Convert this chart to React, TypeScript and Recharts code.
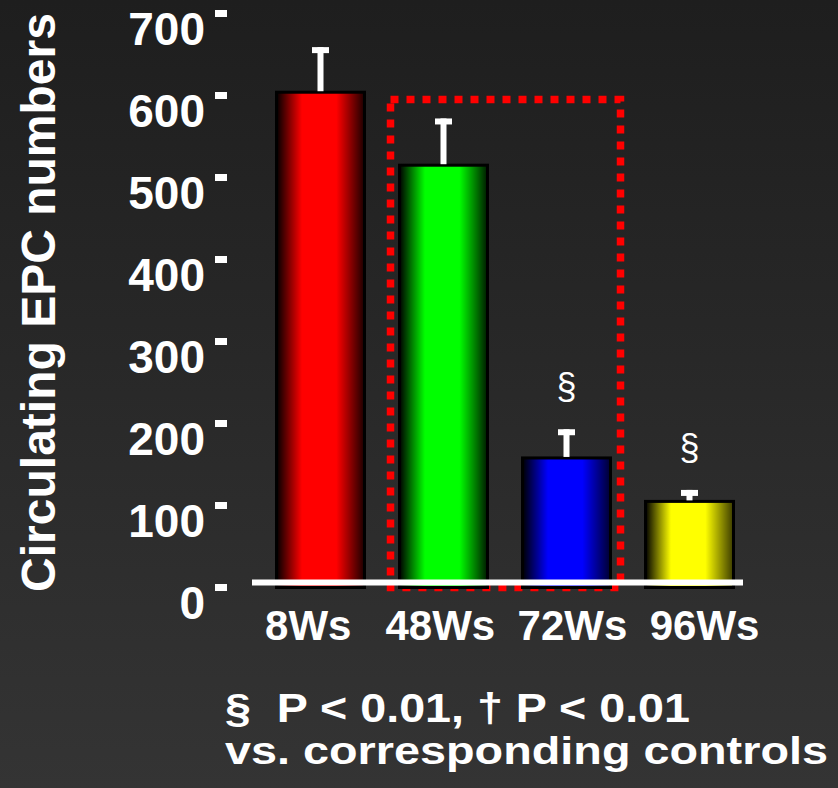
import React from 'react';
import { BarChart, Bar, XAxis, YAxis, ReferenceArea, ReferenceLine } from 'recharts';

const categories = ['8Ws', '48Ws', '72Ws', '96Ws'];
const means = [604, 515, 158, 105];
const errors = [55, 57, 35, 14];
const marks = ['', '', '§', '§'];
const colors = ['#ff0000', '#00ff00', '#0000ff', '#ffff00'];
const edgeColors = ['#1a0000', '#001a00', '#000030', '#3a3a00'];
const yTicks = [0, 100, 200, 300, 400, 500, 600, 700];
const boxFrom = '48Ws';
const boxTo = '72Ws';
const boxTop = 595;
const yTitle = 'Circulating EPC numbers';
const note1 = '§  P < 0.01, † P < 0.01';
const note2 = 'vs. corresponding controls';

const data = categories.map((c, i) => ({ name: c, value: means[i], err: errors[i], mark: marks[i] }));

const FONT = '"Liberation Sans", Arial, Helvetica, sans-serif';
const CHART_W = 838;
const MARGIN = { top: 13.5, right: 87, bottom: 140.5, left: 0 };
const Y_AXIS_W = 259;
const PLOT_MID = Y_AXIS_W + (CHART_W - MARGIN.right - Y_AXIS_W) / 2;

const BarShape = (props: any) => {
  const { x, y, width, height, index, payload } = props;
  const pxPerUnit = height / payload.value;
  const errTop = y - payload.err * pxPerUnit;
  const cx = x + width / 2;
  return (
    <g>
      <rect x={x} y={y} width={width} height={height} fill={`url(#barGrad${index})`} stroke="#000" strokeWidth={3} />
      <rect x={cx - 3} y={errTop} width={6} height={y - errTop - 1} fill="#fff" />
      <rect x={cx - 8.5} y={errTop} width={17} height={6} fill="#fff" />
      {payload.mark ? (
        <text x={cx} y={errTop - 30} textAnchor="middle" fill="#fff" fontFamily={FONT} fontSize={36}>
          {payload.mark}
        </text>
      ) : null}
    </g>
  );
};

const YTick = (props: any) => {
  const { x, y, payload } = props;
  return (
    <g>
      <rect x={x - 44} y={y - 3.5} width={12} height={7} fill="#fff" />
      <text x={x - 54} y={y + 31} textAnchor="end" fill="#fff" fontFamily={FONT} fontWeight="bold" fontSize={46}>
        {payload.value}
      </text>
    </g>
  );
};

const XTick = (props: any) => {
  const { x, y, payload } = props;
  const tx = x + (x - PLOT_MID) * 0.074 + 1.4;
  return (
    <text x={tx} y={y + 52.5} textAnchor="middle" fill="#fff" fontFamily={FONT} fontWeight="bold" fontSize={42}>
      {payload.value}
    </text>
  );
};

const YTitle = (props: any) => {
  const vb = props.viewBox || {};
  const cx = vb.x + 55;
  const cy = vb.y + vb.height / 2 + 2;
  return (
    <text transform={`rotate(-90 ${cx} ${cy})`} x={cx} y={cy} textAnchor="middle" fill="#fff" fontFamily={FONT} fontWeight="bold" fontSize={48}>
      {yTitle}
    </text>
  );
};

const BoxShape = (props: any) => {
  const { x, y, width, height } = props;
  return (
    <rect x={x + 8.5} y={y} width={width - 16} height={height} fill="none" stroke="#ff0000" strokeWidth={7.5} strokeDasharray="8 8" />
  );
};

const AxisLineShape = (props: any) => {
  const { x1, y1, x2 } = props;
  return <line x1={x1 - 7} y1={y1 - 5} x2={x2 - 8} y2={y1 - 5} stroke="#fff" strokeWidth={6} />;
};

export default function App() {
  return (
    <div
      style={{
        position: 'absolute',
        left: 0,
        top: 0,
        width: 838,
        height: 788,
        background: 'linear-gradient(to bottom, #1e1e1e, #343434)',
        overflow: 'hidden',
      }}
    >
      <BarChart width={CHART_W} height={788} data={data} margin={MARGIN} barCategoryGap={17.5}>
        <defs>
          {colors.map((c, i) => (
            <linearGradient key={i} id={`barGrad${i}`} x1="0" y1="0" x2="1" y2="0">
              <stop offset="0" stopColor="#000" />
              <stop offset="0.29" stopColor={c} />
              <stop offset="0.68" stopColor={c} />
              <stop offset="1" stopColor={edgeColors[i]} />
            </linearGradient>
          ))}
        </defs>
        <XAxis dataKey="name" axisLine={false} tickLine={false} tickSize={0} tickMargin={0} height={60} tick={<XTick />} interval={0} />
        <YAxis
          domain={[0, 700]}
          ticks={yTicks}
          width={Y_AXIS_W}
          axisLine={false}
          tickLine={false}
          tickSize={0}
          tickMargin={0}
          tick={<YTick />}
          interval={0}
          label={<YTitle />}
        />
        <Bar dataKey="value" shape={<BarShape />} isAnimationActive={false} />
        <ReferenceArea x1={boxFrom} x2={boxTo} y1={0} y2={boxTop} shape={<BoxShape />} ifOverflow="visible" />
        <ReferenceLine y={0} shape={<AxisLineShape />} ifOverflow="visible" />
      </BarChart>
      <svg width={838} height={788} style={{ position: 'absolute', left: 0, top: 0, pointerEvents: 'none' }}>
        <text x={225} y={722} fill="#fff" fontFamily={FONT} fontWeight="bold" fontSize={40} textLength={465} lengthAdjust="spacingAndGlyphs" style={{ whiteSpace: 'pre' }}>
          {note1}
        </text>
        <text x={225} y={764} fill="#fff" fontFamily={FONT} fontWeight="bold" fontSize={39} textLength={603} lengthAdjust="spacingAndGlyphs">
          {note2}
        </text>
      </svg>
    </div>
  );
}
